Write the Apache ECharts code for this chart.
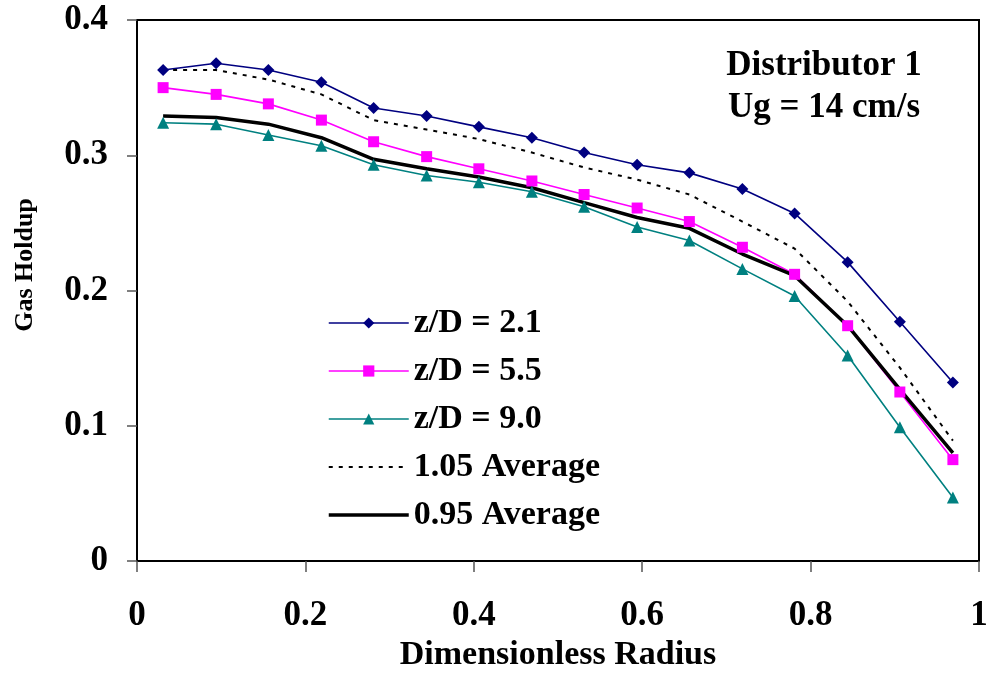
<!DOCTYPE html>
<html>
<head>
<meta charset="utf-8">
<script src="https://cdn.jsdelivr.net/npm/echarts@6/dist/echarts.min.js"></script>
<style>
html,body{margin:0;padding:0;background:#fff;}
#chart{width:992px;height:677px;}
</style>
</head>
<body>
<div id="chart"></div>
<script>
var radius = [0.031,0.094,0.156,0.219,0.281,0.344,0.406,0.469,0.531,0.594,0.656,0.719,0.781,0.844,0.906,0.969];
var zd21 = [0.363,0.368,0.363,0.354,0.335,0.329,0.321,0.313,0.302,0.293,0.287,0.275,0.257,0.221,0.177,0.132];
var zd55 = [0.350,0.345,0.338,0.326,0.310,0.299,0.290,0.281,0.271,0.261,0.251,0.232,0.212,0.174,0.125,0.075];
var zd90 = [0.324,0.323,0.315,0.307,0.293,0.285,0.280,0.273,0.262,0.247,0.237,0.216,0.196,0.152,0.099,0.047];
var avg105 = [0.363,0.363,0.356,0.345,0.326,0.319,0.312,0.302,0.291,0.282,0.271,0.251,0.231,0.192,0.143,0.089];
var avg095 = [0.329,0.328,0.323,0.313,0.297,0.290,0.284,0.276,0.265,0.254,0.246,0.227,0.211,0.174,0.127,0.080];
var seriesNames = ['z/D = 2.1','z/D = 5.5','z/D = 9.0','1.05 Average','0.95 Average'];
var xTicks = [0,0.2,0.4,0.6,0.8,1];
var yTicks = [0,0.1,0.2,0.3,0.4];

function pairs(ys){ return radius.map(function(x,i){ return [x, ys[i]]; }); }

var FONT = '"Liberation Serif","Times New Roman",serif';
var chart = echarts.init(document.getElementById('chart'), null, {renderer:'canvas'});
chart.setOption({
  backgroundColor:'#fff',
  animation:false,
  grid:{left:137,right:13,top:20,bottom:113,show:true,borderColor:'#000',borderWidth:2,backgroundColor:'transparent'},
  xAxis:{
    type:'value',min:xTicks[0],max:xTicks[xTicks.length-1],interval:0.2,
    name:'Dimensionless Radius',nameLocation:'middle',nameGap:75,
    nameTextStyle:{fontFamily:FONT,fontWeight:'bold',fontSize:34,color:'#000'},
    axisLine:{show:true,onZero:false,lineStyle:{color:'#000',width:2}},
    axisTick:{show:true,inside:false,length:11,lineStyle:{color:'#555',width:1.5}},
    axisLabel:{margin:37,fontFamily:FONT,fontWeight:'bold',fontSize:35,color:'#000'},
    splitLine:{show:false}
  },
  yAxis:{
    type:'value',min:yTicks[0],max:yTicks[yTicks.length-1],interval:0.1,
    axisLine:{show:true,onZero:false,lineStyle:{color:'#000',width:2}},
    axisTick:{show:true,inside:false,length:10,lineStyle:{color:'#555',width:1.5}},
    axisLabel:{margin:29,fontFamily:FONT,fontWeight:'bold',fontSize:35,color:'#000'},
    splitLine:{show:false}
  },
  legend:{
    orient:'vertical',left:327,top:306,padding:0,
    itemWidth:80,itemHeight:14,itemGap:14,
    textStyle:{fontFamily:FONT,fontWeight:'bold',fontSize:34,color:'#000',lineHeight:30},
    data:[
      {name:seriesNames[0],lineStyle:{width:1.6}},
      {name:seriesNames[1],lineStyle:{width:1.6}},
      {name:seriesNames[2],lineStyle:{width:1.6}},
      {name:seriesNames[3],itemStyle:{opacity:0},lineStyle:{width:2}},
      {name:seriesNames[4],itemStyle:{opacity:0},lineStyle:{width:3.5}}
    ]
  },
  graphic:[
    {type:'text',x:824,y:87,style:{text:'Distributor 1\nUg = 14 cm/s',fontFamily:FONT,fontWeight:'bold',fontSize:35,lineHeight:42,fill:'#000',align:'center',verticalAlign:'middle'}},
    {type:'text',x:25,y:265,rotation:Math.PI/2,style:{text:'Gas Holdup',fontFamily:FONT,fontWeight:'bold',fontSize:26,fill:'#000',align:'center',verticalAlign:'middle'}}
  ],
  series:[
    {name:seriesNames[0],type:'line',data:pairs(zd21),symbol:'diamond',symbolSize:12,
     lineStyle:{color:'#000080',width:1.6},itemStyle:{color:'#000080'}},
    {name:seriesNames[1],type:'line',data:pairs(zd55),symbol:'rect',symbolSize:11,
     lineStyle:{color:'#FF00FF',width:1.6},itemStyle:{color:'#FF00FF'}},
    {name:seriesNames[2],type:'line',data:pairs(zd90),symbol:'triangle',symbolSize:12,
     lineStyle:{color:'#008080',width:1.6},itemStyle:{color:'#008080'}},
    {name:seriesNames[3],type:'line',data:pairs(avg105),symbol:'none',showSymbol:false,
     lineStyle:{color:'#000',width:2,type:[4,6]},itemStyle:{color:'#000'}},
    {name:seriesNames[4],type:'line',data:pairs(avg095),symbol:'none',showSymbol:false,
     lineStyle:{color:'#000',width:3.5},itemStyle:{color:'#000'}}
  ]
});
</script>
</body>
</html>
